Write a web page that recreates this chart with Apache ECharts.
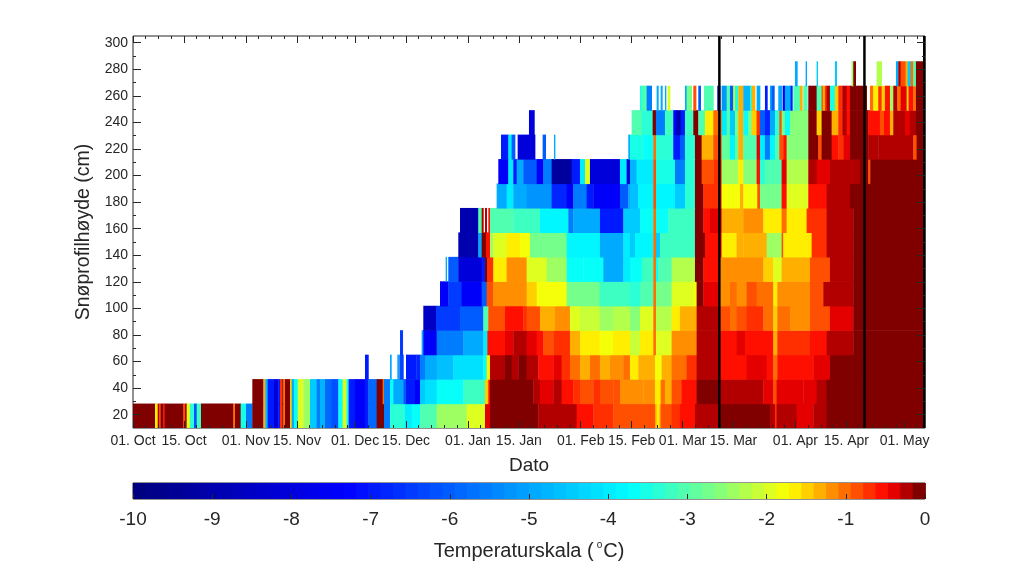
<!DOCTYPE html>
<html><head><meta charset="utf-8">
<style>html,body{margin:0;padding:0;background:#fff}#c{width:1023px;height:569px}</style>
<script src="https://cdn.jsdelivr.net/npm/echarts@6/dist/echarts.min.js"></script>
</head><body><div id="c"></div>
<script>
// Time is counted in samples from 01. Oct; values are pairs: sample where a run starts, temperature (null = no data).
const samplesPerDay = 10.92;
const lastSample = 2376;
const rowBaseCm = 10, rowStepCm = 18.4;
const tickDays = [0,14,31,45,61,75,92,106,123,137,151,165,182,196,212];
const tickLabels = ['01. Oct','15. Oct','01. Nov','15. Nov','01. Dec','15. Dec','01. Jan','15. Jan','01. Feb','15. Feb','01. Mar','15. Mar','01. Apr','15. Apr','01. May'];
const heightTicks = [20,40,60,80,100,120,140,160,180,200,220,240,260,280,300];
const heightMinorTicks = [30,50,70,90,110,130,150,170,190,210,230,250,270,290];
const scaleTicks = [-10,-9,-8,-7,-6,-5,-4,-3,-2,-1,0];
const blackLineDays = [161.1,200.96,217.4];

const row0=[0,-.05,66,-1.6,74,-.2,79,-.9,83,-.15,91,-.5,95,-.15,151,-.9,156,-.2,161,-2,171,-3.4,183,-6.2,191,-3.2,204,-.05,301,-1,306,-.05,323,-3.5,339,-5.5,358,-.05,391,-1.3,397,-4.8,404,-7,423,-8,436,-7,441,-.7,448,-.05,451,-1,456,-.1,471,-1.5,476,-5,483,-3.6,494,-2,511,-2.4,531,-4.5,551,-5.5,561,-4.8,576,-5.8,596,-6.2,616,-3.7,629,-2,641,-3.7,647,-7,666,-7.5,696,-7,706,-5.8,731,-.05,753,-5.5,771,-3.4,816,-4,836,-3.6,861,-3,911,-2.5,1001,-2,1056,-.4,1071,-.05,1216,-.2,1301,-.3,1331,-.6,1381,-.7,1441,-.8,1491,-.8,1566,-1.3,1571,-1.6,1579,-1.3,1583,-.9,1616,-.7,1641,-.5,1686,-.2,1761,-.1,1911,-.3,1926,-.7,1931,-.3,1991,-.35,2041,-.2,2081,-.05];
const row1=[358,-.05,391,-1.3,397,-4.8,404,-7,423,-8,436,-7,441,-.7,448,-.05,451,-1,456,-.1,471,-1.5,476,-5,483,-3.6,494,-2,511,-2.4,531,-4.5,551,-5.5,561,-4.8,576,-5.8,596,-6.2,616,-3.7,629,-2,641,-3.7,647,-7,666,-7.5,696,-7,706,-5.8,731,-.05,749,-1,753,-5.5,771,-3.7,781,-5,811,-6,819,-7,846,-7.5,861,-4.5,876,-4.2,911,-3.7,991,-3.2,1056,-1.5,1066,-.5,1071,-.05,1201,-.2,1221,-.4,1261,-.3,1286,-.5,1321,-.7,1341,-.9,1381,-.7,1401,-.8,1441,-.9,1461,-1.2,1531,-1.1,1566,-1.6,1583,-1,1596,-1.3,1616,-.8,1646,-.6,1691,-.12,1761,-.3,1821,-.25,1891,-.4,1921,-.9,1931,-.4,2011,-.35,2051,-.25,2081,-.05];
const row2=[696,-7,706,null,771,-5,775,null,793,-5,797,null,799,-6.3,811,null,819,-7,850,-6.8,861,-5.5,876,-5,911,-4.6,961,-4.2,1051,-3.6,1061,-1.6,1071,-.25,1116,-.05,1136,-.25,1156,-.05,1181,-.3,1216,-.55,1261,-.4,1286,-.7,1311,-1,1341,-1.3,1371,-1,1401,-1.3,1431,-1.2,1471,-1,1491,-1.6,1516,-1.3,1566,-1.8,1586,-1.4,1616,-1,1661,-.7,1691,-.2,1761,-.5,1841,-.35,1901,-.5,1921,-1,1933,-.5,2021,-.6,2041,-.35,2091,-.12,2191,-.05];
const row3=[801,-6.5,809,null,866,-5,871,-7.5,911,-5.5,991,-5,1051,-4,1063,-.5,1116,-.35,1141,-.3,1181,-.4,1211,-.5,1231,-.9,1261,-.7,1311,-1.4,1341,-1.6,1400,-1.8,1440,-1.6,1491,-2.1,1521,-1.6,1561,-1,1569,-2,1591,-1.9,1616,-1.1,1691,-.25,1761,-.6,1811,-.45,1836,-.5,1871,-.6,1921,-1.4,1933,-.7,2031,-.6,2081,-.3,2161,-.05];
const row4=[871,-8.5,909,-6.5,981,-6,1051,-3,1066,-.8,1116,-.6,1171,-.7,1181,-.9,1221,-1.4,1266,-1.1,1311,-1.9,1341,-2.1,1400,-2.4,1440,-2.2,1491,-2.6,1521,-2,1561,-1,1569,-2.2,1616,-1.6,1641,-1.3,1691,-.3,1761,-.9,1791,-1,1811,-.8,1841,-.7,1891,-1,1921,-1.5,1933,-1,1971,-1.2,2031,-.8,2091,-.35,2161,-.05];
const row5=[921,-7.5,946,-6.5,986,-7.5,1046,-6,1061,-.9,1081,-1.2,1181,-1.5,1211,-1.8,1301,-2.8,1400,-3.2,1491,-3.4,1521,-3,1561,-1,1569,-2.7,1616,-2,1681,-1.8,1691,-.15,1711,-.4,1761,-1.2,1791,-1,1811,-1.2,1841,-.9,1871,-1,1921,-1.6,1933,-1.2,1971,-1.1,2031,-.8,2071,-.3,2161,-.05];
const row6=[938,-5,941,null,946,-6,976,-8,1046,-7,1056,-.05,1063,-.7,1081,-1.6,1121,-1.2,1181,-2,1241,-2.5,1301,-3.6,1351,-3.7,1411,-5,1471,-4,1491,-3.6,1526,-3.2,1561,-1,1569,-3.7,1576,-3,1616,-2.2,1686,-.1,1711,-.5,1761,-1.2,1811,-1.1,1891,-1.5,1921,-2,1946,-1.3,2031,-.8,2091,-.3,2161,-.05];
const row7=[976,-9,1036,-5,1046,-.05,1059,-.5,1071,-2.5,1081,-2,1121,-1.6,1161,-1.8,1191,-2.7,1301,-3.8,1401,-5,1471,-4,1491,-4.5,1506,-3.8,1561,-1,1569,-4.5,1581,-3.2,1686,-.1,1716,-.5,1766,-1.6,1811,-1.3,1831,-1.4,1901,-2.5,1946,-.8,1951,-1.6,2036,-.7,2081,-.3,2161,-.05];
const row8=[981,-9,1036,-3,1046,-.2,1051,null,1056,-.3,1061,null,1066,-.6,1071,-3,1141,-3.2,1221,-3.8,1306,-5.5,1321,-5,1401,-7,1471,-4.5,1491,-4.4,1521,-3.7,1561,-1,1569,-3.7,1606,-3.2,1686,-.1,1711,-.5,1731,-.4,1766,-1.4,1831,-1.2,1891,-1.6,1946,-1,1961,-1.7,2021,-.7,2081,-.3,2161,-.05];
const row9=[1091,-5,1121,-4,1141,-5,1181,-5.3,1256,-6.8,1301,-7.5,1321,-5.5,1361,-7,1381,-7.5,1461,-6,1486,-5,1491,-4.6,1516,-3.8,1561,-.8,1569,-3.8,1626,-4.5,1656,-3.3,1686,-.1,1711,-.7,1766,-1.8,1821,-1.3,1831,-1.8,1873,-.8,1881,-2.7,1946,-.6,1961,-1.9,2026,-.6,2081,-.3,2151,-.05];
const row10=[1096,-7.5,1126,-4,1141,-7,1151,-5,1171,-6,1211,-7.5,1231,-5.5,1256,-9.3,1316,-7,1341,-4,1356,-2,1371,-8,1461,-4,1481,-8,1491,-4.8,1511,-4,1561,-.8,1569,-3.5,1626,-5.5,1656,-3.3,1686,-.1,1706,-.9,1741,-.7,1766,-2.4,1816,-1.6,1831,-2.6,1871,-.5,1881,-3.3,1896,-3,1946,-.4,1961,-2.3,2026,-.2,2051,-.4,2091,-.2,2181,-.1,2206,-.8,2212,-.1];
const row11=[1104,-7,1126,-4,1136,-6,1146,null,1154,-8,1206,null,1229,-6,1238,null,1263,-5,1266,null,1486,-5,1491,-3.5,1531,-3.6,1561,-1,1569,-3.4,1621,-7,1641,-6,1656,-3.4,1686,-.1,1706,-1.3,1716,-1.4,1741,-.9,1766,-2.9,1791,-3.8,1806,-2.9,1816,-1.3,1831,-3.1,1871,-.4,1881,-4,1896,-5.5,1911,-3.8,1926,-3,1939,-.9,1951,-.5,1961,-2.6,2026,-.15,2056,-.8,2066,-.1,2096,-.5,2116,-.7,2131,-.4,2151,-.05,2206,-.3,2236,-.25,2341,-.8,2351,-.05];
const row12=[1188,-8,1204,null,1496,-3,1526,-3.4,1559,-.1,1569,-5.5,1596,-3.2,1621,-7.5,1631,-9,1643,-7,1656,-3.2,1681,-.1,1696,-3,1716,-1.7,1741,-1,1766,-4,1781,-3,1791,-4.5,1806,-2.8,1816,-1.4,1831,-3.7,1846,-2.8,1856,-1.5,1871,-.7,1881,-6,1896,-6.8,1911,-5,1926,-3.4,1939,-.9,1946,-2.8,1956,-3.6,1971,-2.6,2026,-.1,2051,-1.5,2066,-.1,2096,-1.4,2116,-.7,2128,-.2,2141,-.5,2151,-.05,2206,-.5,2231,-.6,2241,-.9,2253,-.5,2271,-1.4,2281,-.3,2316,-.4,2331,-.3,2349,-.05];
const row13=[1521,-3.5,1526,-3,1541,-5.5,1556,null,1571,-5,1576,null,1583,-5,1588,null,1596,-5,1599,null,1604,-2,1611,null,1656,-5,1661,-2.8,1676,null,1681,-.8,1689,null,1696,-6,1703,null,1713,-3,1741,null,1753,-8,1761,null,1766,-5.2,1781,-3,1791,-6,1801,-2,1806,-3.5,1816,-1.3,1831,-4.8,1851,-3.5,1856,-1.3,1866,null,1871,-5,1881,null,1896,-7,1903,null,1911,-5,1916,-6,1924,null,1936,-5,1946,null,1949,-7.5,1956,-5,1973,-7,1978,null,1981,-3,2001,-1.3,2008,null,2011,-3,2023,null,2026,-.1,2051,-3,2066,-.7,2069,-1.3,2076,-.7,2081,-.2,2091,-3.5,2106,-1.5,2116,-.7,2128,-.3,2141,-.5,2151,-.05,2201,null,2211,-1,2221,-1.6,2236,-.7,2246,-1.5,2256,-.6,2271,-2.4,2281,-.3,2293,-1,2303,-.4,2321,-1.5,2327,-.5,2341,-1,2349,-.05];
const row14=[1986,-5,1993,null,2018,-5,2021,null,2051,-4.5,2054,null,2106,-4.5,2111,null,2156,-2.5,2161,-.05,2168,null,2231,-2.2,2246,null,2289,-5,2296,-.3,2303,-.8,2318,-1.3,2324,-4.5,2333,-1,2341,-3,2349,-.05];
const rows=[row0,row1,row2,row3,row4,row5,row6,row7,row8,row9,row10,row11,row12,row13,row14];

// Colour table: 64 flat bands, as on the reference's scale.
const colorStops=[[0,[0,0,128]],[.265,[0,0,255]],[.63,[0,255,255]],[.74,[128,255,128]],[.833,[255,255,0]],[.96,[255,0,0]],[1,[128,0,0]]];
const bandCount=64;
function bandColor(b){
  const t=b/(bandCount-1);
  let i=0; while(i<colorStops.length-2&&t>colorStops[i+1][0])i++;
  const a=colorStops[i],z=colorStops[i+1],f=(t-a[0])/(z[0]-a[0]);
  return 'rgb('+a[1].map((v,k)=>Math.round(v+(z[1][k]-v)*f)).join(',')+')';
}
const bandColors=Array.from({length:bandCount},(_,b)=>bandColor(b));
function tempColor(v){
  const b=Math.max(0,Math.min(bandCount-1,Math.floor((v+10)/10*bandCount)));
  return bandColors[b];
}

const cells=[];
rows.forEach((r,k)=>{
  for(let i=0;i<r.length;i+=2){
    if(r[i+1]===null)continue;
    const end=i+2<r.length?r[i+2]:lastSample;
    cells.push([r[i]/samplesPerDay,end/samplesPerDay,rowBaseCm+k*rowStepCm,rowBaseCm+(k+1)*rowStepCm,r[i+1]]);
  }
});
const scaleCells=bandColors.map((_,b)=>[-10+b*10/bandCount,-10+(b+1)*10/bandCount,b]);
const minorDays=[];
tickDays.forEach((d,i)=>{
  const next=i+1<tickDays.length?tickDays[i+1]:217;
  for(let m=d+3.5;m<next-1;m+=3.5)minorDays.push(m);
});

const ink='#262626';
const font='"Liberation Sans", Arial, sans-serif';
const xMax=217.6;
const offLine={show:false,onZero:false};
const base={type:'value',gridIndex:0,min:0,max:xMax,z:10,splitLine:{show:false},axisLine:offLine,axisLabel:{show:false}};
const yBase={type:'value',gridIndex:0,min:10,max:305,z:10,splitLine:{show:false},axisLine:offLine,axisLabel:{show:false}};
function xAx(pos,vals,len,extra){return Object.assign({},base,{position:pos,axisTick:{show:true,inside:true,length:len,lineStyle:{color:ink,width:1},customValues:vals}},extra||{});}
function yAx(pos,vals,len,extra){return Object.assign({},yBase,{position:pos,axisTick:{show:true,inside:true,length:len,lineStyle:{color:ink,width:1},customValues:vals}},extra||{});}

const option={
  animation:false,backgroundColor:'#fff',textStyle:{fontFamily:font},
  grid:[
    {left:133,top:36,width:792,height:392,show:true,borderColor:ink,borderWidth:1,backgroundColor:'#fff',z:1},
    {left:133,top:483,width:792,height:16,show:true,borderColor:ink,borderWidth:1,z:1}
  ],
  xAxis:[
    xAx('bottom',tickDays,7,{name:'Dato',nameLocation:'middle',nameGap:28,nameTextStyle:{fontSize:19,color:ink,fontFamily:font},
      axisLabel:{show:true,customValues:tickDays,margin:6,fontSize:14,color:ink,fontFamily:font,hideOverlap:false,
        formatter:v=>tickLabels[tickDays.indexOf(v)]}}),
    xAx('bottom',minorDays,3),
    xAx('top',tickDays,7),
    xAx('top',minorDays,3),
    {type:'value',gridIndex:1,min:-10,max:0,interval:1,z:10,position:'bottom',splitLine:{show:false},axisLine:offLine,
      axisTick:{show:true,inside:true,length:5,lineStyle:{color:ink}},
      axisLabel:{show:true,margin:11,fontSize:19,color:ink,fontFamily:font,showMinLabel:true,showMaxLabel:true},
      name:'{a|Temperaturskala (}{b|o}{a|C)}',nameLocation:'middle',nameGap:41,
      nameTextStyle:{rich:{a:{fontSize:20,color:ink,fontFamily:font},b:{fontSize:10,color:ink,fontFamily:font,padding:[0,1,12,3]}}}}
  ],
  yAxis:[
    yAx('left',heightTicks,8,{name:'Snøprofilhøyde (cm)',nameLocation:'middle',nameGap:30,nameTextStyle:{fontSize:19.5,color:ink,fontFamily:font},
      axisLabel:{show:true,customValues:heightTicks,margin:5,fontSize:14,color:ink,fontFamily:font}}),
    yAx('left',heightMinorTicks,3),
    yAx('right',heightTicks,8),
    yAx('right',heightMinorTicks,3),
    {type:'value',gridIndex:1,min:0,max:1,show:false}
  ],
  series:[
    {type:'custom',xAxisIndex:0,yAxisIndex:0,coordinateSystem:'cartesian2d',z:2,clip:true,silent:true,
      data:cells,encode:{x:[0,1],y:[2,3]},
      renderItem(p,api){
        const a=api.coord([api.value(0),api.value(3)]),b=api.coord([api.value(1),api.value(2)]);
        return {type:'rect',shape:{x:a[0],y:a[1],width:b[0]-a[0]+.4,height:b[1]-a[1]+.6},style:{fill:tempColor(api.value(4))}};
      }},
    {type:'custom',xAxisIndex:0,yAxisIndex:0,coordinateSystem:'cartesian2d',z:3,silent:true,
      data:blackLineDays.map(d=>[d]),encode:{x:0},
      renderItem(p,api){
        const a=api.coord([api.value(0),305]),b=api.coord([api.value(0),10]);
        return {type:'line',shape:{x1:a[0],y1:a[1],x2:b[0],y2:b[1]},style:{stroke:'#000',lineWidth:2.5}};
      }},
    {type:'custom',xAxisIndex:4,yAxisIndex:4,coordinateSystem:'cartesian2d',z:2,silent:true,
      data:scaleCells,encode:{x:[0,1]},
      renderItem(p,api){
        const a=api.coord([api.value(0),1]),b=api.coord([api.value(1),0]);
        return {type:'rect',shape:{x:a[0],y:a[1],width:b[0]-a[0]+.8,height:b[1]-a[1]},style:{fill:bandColors[api.value(2)]}};
      }}
  ]
};
echarts.init(document.getElementById('c'),null,{renderer:'canvas'}).setOption(option);
</script></body></html>
